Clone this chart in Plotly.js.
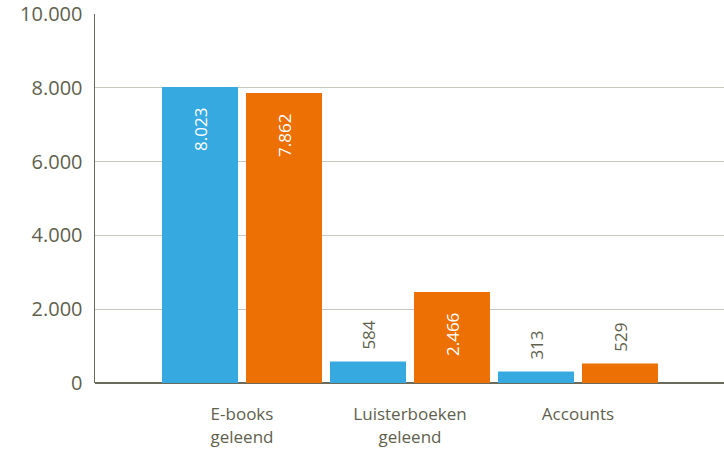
<!DOCTYPE html>
<html><head><meta charset="utf-8">
<script src="https://cdn.plot.ly/plotly-3.0.1.min.js"></script>
<style>html,body{margin:0;padding:0;background:#fff}#c{width:724px;height:452px}</style>
</head><body><div id="c"></div>
<script>
const categories = ["E-books<br>geleend", "Luisterboeken<br>geleend", "Accounts"];
const seriesA = [8023, 584, 313];
const seriesB = [7862, 2466, 529];
const yTicks = [0, 2000, 4000, 6000, 8000, 10000];

const textColor = "#5f5f4e";
const fontFam = "'Open Sans', Lato, sans-serif";

function trace(y, color) {
  return {
    type: "bar", x: categories, y: y,
    marker: {color: color},
    texttemplate: "\u00a0\u00a0%{y:,}\u00a0\u00a0\u00a0\u00a0",
    textposition: "auto",
    textangle: -90,
    insidetextanchor: "end",
    constraintext: "none",
    insidetextfont: {color: "#ffffff", size: 17, family: fontFam},
    outsidetextfont: {color: textColor, size: 17, family: fontFam},
    cliponaxis: false,
    hoverinfo: "none"
  };
}

const data = [trace(seriesA, "#36a9e1"), trace(seriesB, "#ec7003")];

const layout = {
  width: 724, height: 452,
  margin: {l: 95, r: 0, t: 14, b: 69},
  separators: ",.",
  showlegend: false,
  barmode: "group",
  bargap: 0,
  bargroupgap: 0.095,
  plot_bgcolor: "#ffffff", paper_bgcolor: "#ffffff",
  font: {family: fontFam, color: textColor},
  xaxis: {
    type: "category",
    range: [-0.875, 2.869],
    showline: false, showgrid: false, zeroline: false,
    ticks: "outside", ticklen: 16, tickcolor: "rgba(0,0,0,0)",
    tickfont: {size: 17, color: textColor}
  },
  yaxis: {
    range: [0, 10000],
    tickvals: yTicks,
    tickformat: ",d",
    showline: true, linecolor: "#6b6b5b", linewidth: 1.5,
    showgrid: true, gridcolor: "#c9c9c0", gridwidth: 1,
    zeroline: true, zerolinecolor: "#6b6b5b", zerolinewidth: 1.5,
    ticks: "outside", ticklen: 7, tickcolor: "rgba(0,0,0,0)",
    tickfont: {size: 20, color: textColor}
  }
};

Plotly.newPlot("c", data, layout, {displayModeBar: false, staticPlot: true});
</script>
</body></html>
